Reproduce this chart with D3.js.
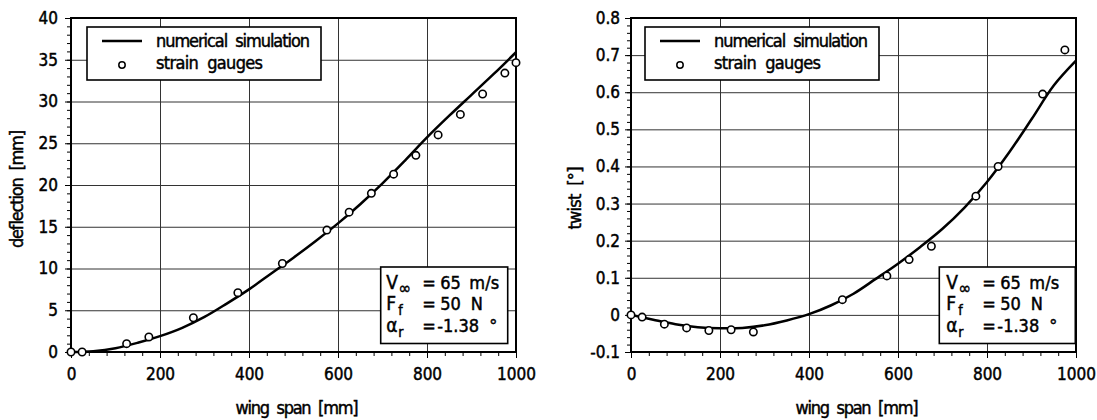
<!DOCTYPE html>
<html>
<head>
<meta charset="utf-8">
<script src="https://cdn.jsdelivr.net/npm/d3@7"></script>
<style>
  body { margin: 0; background: #fff; }
  svg text { font-family: 'Liberation Sans Narrow', 'DejaVu Sans Condensed', 'Liberation Sans', sans-serif; fill: #000; stroke: #000; stroke-width: 0.45px; }
</style>
</head>
<body>
<div id="chart"></div>
<script>
// axis ticks and labels
const spanTicks = [0, 200, 400, 600, 800, 1000];
const spanLabels = ['0', '200', '400', '600', '800', '1000'];
const deflectionTicks = [0, 5, 10, 15, 20, 25, 30, 35, 40];
const deflectionLabels = ['0', '5', '10', '15', '20', '25', '30', '35', '40'];
const twistTicks = [-0.1, 0, 0.1, 0.2, 0.3, 0.4, 0.5, 0.6, 0.7, 0.8];
const twistLabels = ['-0.1', '0', '0.1', '0.2', '0.3', '0.4', '0.5', '0.6', '0.7', '0.8'];

// numerical simulation
const simSpan = [0, 50, 100, 150, 200, 250, 300, 350, 400, 450, 500, 550, 600, 650, 700, 750, 800, 850, 900, 950, 1000];
const simDeflection = [0, 0.1, 0.45, 1.1, 1.9, 2.9, 4.2, 5.8, 7.5, 9.4, 11.3, 13.3, 15.4, 17.7, 20.2, 22.9, 25.7, 28.3, 30.8, 33.3, 35.9];
const simTwist = [0, -0.013, -0.025, -0.033, -0.036, -0.035, -0.028, -0.015, 0.002, 0.026, 0.057, 0.097, 0.138, 0.183, 0.232, 0.29, 0.358, 0.438, 0.527, 0.618, 0.685];

// strain gauge measurements
const gaugeSpanDeflection = [0, 25, 125, 175, 275, 375, 475, 575, 625, 675, 725, 775, 825, 875, 925, 975, 1000];
const gaugeDeflection = [0, 0, 1.0, 1.8, 4.1, 7.1, 10.6, 14.6, 16.75, 19.0, 21.3, 23.55, 26.0, 28.45, 30.9, 33.4, 34.65];
const gaugeSpanTwist = [0, 25, 75, 125, 175, 225, 275, 475, 575, 625, 675, 775, 825, 925, 975];
const gaugeTwist = [0, -0.006, -0.025, -0.035, -0.042, -0.040, -0.046, 0.041, 0.105, 0.149, 0.185, 0.32, 0.40, 0.595, 0.714];

const legendLabels = ['numerical  simulation', 'strain  gauges'];
const condSymbols = ['V', 'F', 'α'];
const condSubs = ['∞', 'f', 'r'];
const condValues = ['65', '50', '-1.38'];
const condUnits = ['m/s', 'N', '°'];

const W = 1097, H = 420;
const svg = d3.select('#chart').append('svg')
    .attr('width', W)
    .attr('height', H);
svg.append('rect').attr('width', W).attr('height', H).attr('fill', '#fff');

const plotTop = 18, plotBottom = 352;

function drawPanel(p) {
  const x = d3.scaleLinear().domain([0, 1000]).range([p.left, p.right]);
  const y = d3.scaleLinear().domain([p.yTicks[0], p.yTicks[p.yTicks.length - 1]]).range([plotBottom, plotTop]);
  const g = svg.append('g');

  // grid
  g.append('g')
      .attr('transform', `translate(0,${plotBottom})`)
      .call(d3.axisBottom(x).tickValues(spanTicks.slice(1, -1)).tickSize(-(plotBottom - plotTop)).tickFormat(''))
      .call(a => a.select('.domain').remove())
      .selectAll('line').attr('stroke', '#333').attr('stroke-width', 1);
  g.append('g')
      .attr('transform', `translate(${p.left},0)`)
      .call(d3.axisLeft(y).tickValues(p.yTicks.slice(1, -1)).tickSize(-(p.right - p.left)).tickFormat(''))
      .call(a => a.select('.domain').remove())
      .selectAll('line').attr('stroke', '#333').attr('stroke-width', 1);

  // minor ticks
  g.append('g')
      .attr('transform', `translate(0,${plotBottom})`)
      .call(d3.axisBottom(x).tickValues(d3.range(0, 1001, 40)).tickSize(4).tickFormat(''))
      .call(a => a.select('.domain').remove())
      .selectAll('line').attr('stroke', '#000');
  g.append('g')
      .attr('transform', `translate(${p.left},0)`)
      .call(d3.axisLeft(y).tickValues(p.yMinor).tickSize(4).tickFormat(''))
      .call(a => a.select('.domain').remove())
      .selectAll('line').attr('stroke', '#000');

  // major ticks with labels
  const xAxis = g.append('g')
      .attr('transform', `translate(0,${plotBottom})`)
      .call(d3.axisBottom(x).tickValues(spanTicks).tickSize(6).tickPadding(10)
        .tickFormat((d, i) => spanLabels[i]));
  xAxis.select('.domain').remove();
  xAxis.selectAll('text').attr('font-size', 17);
  xAxis.attr('font-family', null);

  const yAxis = g.append('g')
      .attr('transform', `translate(${p.left},0)`)
      .call(d3.axisLeft(y).tickValues(p.yTicks).tickSize(6).tickPadding(p.yPad)
        .tickFormat((d, i) => p.yLabels[i]));
  yAxis.select('.domain').remove();
  yAxis.selectAll('text').attr('font-size', 17);
  yAxis.attr('font-family', null);

  // frame
  g.append('rect')
      .attr('x', p.left).attr('y', plotTop)
      .attr('width', p.right - p.left).attr('height', plotBottom - plotTop)
      .attr('fill', 'none').attr('stroke', '#000').attr('stroke-width', 2);

  // simulation curve
  const line = d3.line()
      .x((d, i) => x(simSpan[i]))
      .y(d => y(d))
      .curve(d3.curveCatmullRom);
  g.append('path')
      .datum(p.sim)
      .attr('d', line)
      .attr('fill', 'none').attr('stroke', '#000').attr('stroke-width', 2.5);

  // gauges
  g.append('g').selectAll('circle')
      .data(p.gauge)
      .join('circle')
      .attr('cx', (d, i) => x(p.gaugeSpan[i]))
      .attr('cy', d => y(d))
      .attr('r', 3.7)
      .attr('fill', '#fff').attr('stroke', '#000').attr('stroke-width', 1.6);

  // legend
  const lg = g.append('g').attr('transform', `translate(${p.left + p.legendDx},27)`);
  lg.append('rect')
      .attr('width', 234).attr('height', 53)
      .attr('fill', '#fff').attr('stroke', '#000').attr('stroke-width', 1.6);
  lg.append('line')
      .attr('x1', 15).attr('x2', 55).attr('y1', 14).attr('y2', 14)
      .attr('stroke', '#000').attr('stroke-width', 2.5);
  lg.append('circle')
      .attr('cx', 35).attr('cy', 38).attr('r', 3.2)
      .attr('fill', '#fff').attr('stroke', '#000').attr('stroke-width', 1.5);
  lg.selectAll('text.leg')
      .data(legendLabels)
      .join('text')
      .attr('class', 'leg')
      .attr('x', 69)
      .attr('y', (d, i) => i ? 42 : 20)
      .attr('font-size', 18)
      .attr('textLength', (d, i) => i ? 107 : 154)
      .attr('lengthAdjust', 'spacing')
      .style('white-space', 'pre')
      .text(d => d);

  // conditions box
  const cb = g.append('g').attr('transform', `translate(${p.right + p.boxDx},267)`);
  cb.append('rect')
      .attr('width', p.boxW).attr('height', 76.5)
      .attr('fill', '#fff').attr('stroke', '#000').attr('stroke-width', 1.6);
  const unitDx = [88, 89.5, 108];
  condSymbols.forEach((s, i) => {
    const by = 21.5 + i * 21.5;
    cb.append('text').attr('x', p.textDx).attr('y', by).attr('font-size', 19).text(s);
    cb.append('text').attr('x', p.textDx + 12).attr('y', by + 5).attr('font-size', i === 0 ? 17 : 14).text(condSubs[i]);
    cb.append('text').attr('x', p.textDx + 36).attr('y', by).attr('font-size', 18).text('=');
    cb.append('text').attr('x', p.textDx + (i === 2 ? 51 : 54)).attr('y', by).attr('font-size', 18).text(condValues[i]);
    const u = cb.append('text').attr('x', p.textDx + unitDx[i] - 5).attr('y', by).attr('font-size', 18)
        .text(condUnits[i]);
    if (i === 0) u.attr('textLength', 30);
  });

  // axis titles
  g.append('text')
      .attr('x', (p.left + p.right) / 2 + 3.5)
      .attr('y', 414)
      .attr('text-anchor', 'middle')
      .attr('font-size', 18)
      .attr('textLength', 123)
      .attr('lengthAdjust', 'spacing')
      .style('white-space', 'pre')
      .text('wing  span  [mm]');
  g.append('text')
      .attr('transform', `translate(${p.titleX},${p.titleY}) rotate(-90)`)
      .attr('text-anchor', 'middle')
      .attr('font-size', 18)
      .attr('textLength', p.titleW)
      .attr('lengthAdjust', 'spacing')
      .style('white-space', 'pre')
      .text(p.title);
}

drawPanel({
  left: 71, right: 516,
  yTicks: deflectionTicks, yLabels: deflectionLabels,
  yMinor: d3.range(0, 40.01, 1), yPad: 7,
  sim: simDeflection, gauge: gaugeDeflection, gaugeSpan: gaugeSpanDeflection,
  legendDx: 16, boxDx: -135.3, boxW: 127, textDx: 5.5,
  title: 'deflection  [mm]', titleX: 22.5, titleY: 189, titleW: 118
});

drawPanel({
  left: 631, right: 1076,
  yTicks: twistTicks, yLabels: twistLabels,
  yMinor: d3.range(-0.1, 0.801, 0.02), yPad: 5,
  sim: simTwist, gauge: gaugeTwist, gaugeSpan: gaugeSpanTwist,
  legendDx: 14, boxDx: -136.7, boxW: 136, textDx: 7,
  title: 'twist  [°]', titleX: 581, titleY: 198, titleW: 63
});
</script>
</body>
</html>
